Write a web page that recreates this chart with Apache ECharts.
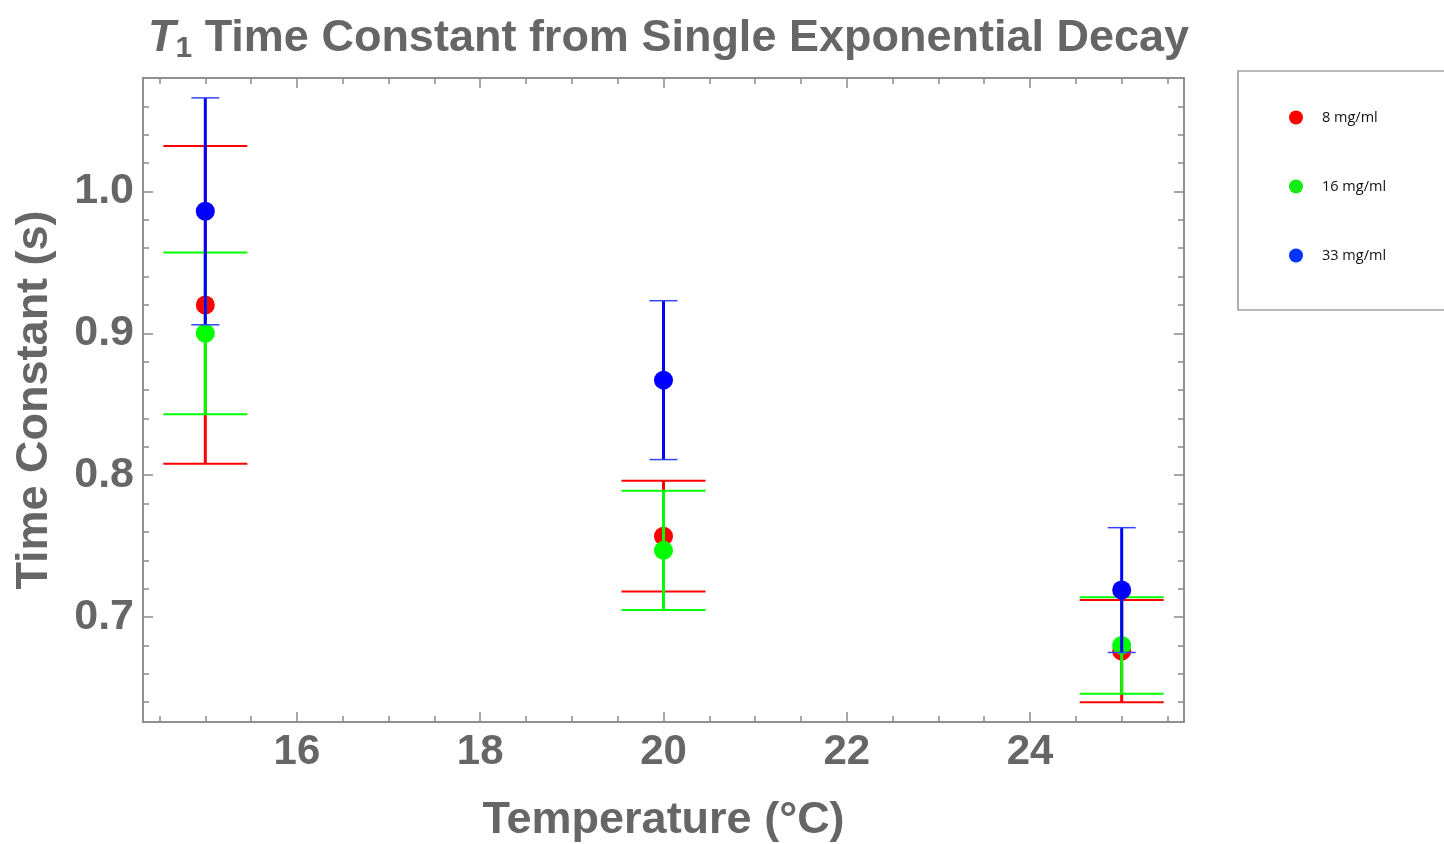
<!DOCTYPE html>
<html>
<head>
<meta charset="utf-8">
<script src="https://cdn.jsdelivr.net/npm/echarts@6/dist/echarts.min.js"></script>
<style>
html,body{margin:0;padding:0;background:#fff;}
#chart{width:1444px;height:844px;}
</style>
</head>
<body>
<div id="chart"></div>
<script>
// ---- data ----
const temperatures = [15, 20, 25];
const seriesNames = ['8 mg/ml', '16 mg/ml', '33 mg/ml'];
const values8 = [0.920, 0.757, 0.676];
const errors8 = [0.112, 0.039, 0.036];
const values16 = [0.900, 0.747, 0.680];
const errors16 = [0.057, 0.042, 0.034];
const values33 = [0.986, 0.867, 0.719];
const errors33 = [0.080, 0.056, 0.044];
const xMajorTicks = [16, 18, 20, 22, 24];
const xMinorTicks = [14.5, 15, 15.5, 16, 16.5, 17, 17.5, 18, 18.5, 19, 19.5, 20, 20.5, 21, 21.5, 22, 22.5, 23, 23.5, 24, 24.5, 25, 25.5];
const yMajorTicks = [0.7, 0.8, 0.9, 1.0];
const yMinorTicks = [0.64, 0.66, 0.68, 0.70, 0.72, 0.74, 0.76, 0.78, 0.80, 0.82, 0.84, 0.86, 0.88, 0.90, 0.92, 0.94, 0.96, 0.98, 1.00, 1.02, 1.04, 1.06];

const xMin = 14.32, xMax = 25.68, yMin = 0.626, yMax = 1.080;
const textGrey = '#666666';
const frameGrey = '#8a8a8a';

function rows(vals, errs) {
  return temperatures.map((t, i) => [t, vals[i], errs[i]]);
}

function makeRender(color, capHalf, capWidth, capColor) {
  return function (params, api) {
    const x = api.value(0), y = api.value(1), e = api.value(2);
    const c = api.coord([x, y]);
    const top = api.coord([x, y + e]);
    const bot = api.coord([x, y - e]);
    return {
      type: 'group',
      children: [
        { type: 'line', shape: { x1: top[0], y1: top[1], x2: bot[0], y2: bot[1] },
          style: { stroke: color, lineWidth: 3 } },
        { type: 'line', shape: { x1: top[0] - capHalf, y1: top[1], x2: top[0] + capHalf, y2: top[1] },
          style: { stroke: capColor, lineWidth: capWidth } },
        { type: 'line', shape: { x1: bot[0] - capHalf, y1: bot[1], x2: bot[0] + capHalf, y2: bot[1] },
          style: { stroke: capColor, lineWidth: capWidth } },
        { type: 'circle', shape: { cx: c[0], cy: c[1], r: 9.5 }, style: { fill: color } }
      ]
    };
  };
}

function xAxisDef(position, ticks, len, labels, extra) {
  return Object.assign({
    type: 'value', position: position, min: xMin, max: xMax, gridIndex: 0,
    axisLine: { show: true, onZero: false, lineStyle: { color: frameGrey, width: 1.5 } },
    axisTick: { show: true, inside: true, length: len, customValues: ticks, lineStyle: { color: frameGrey, width: 1.5 } },
    axisLabel: labels ? { show: true, customValues: ticks, margin: 9, fontSize: 42, fontWeight: 'bold',
      fontFamily: 'Liberation Sans', color: textGrey } : { show: false },
    splitLine: { show: false }
  }, extra || {});
}
function yAxisDef(position, ticks, len, labels, extra) {
  return Object.assign({
    type: 'value', position: position, min: yMin, max: yMax, gridIndex: 0,
    axisLine: { show: true, onZero: false, lineStyle: { color: frameGrey, width: 1.5 } },
    axisTick: { show: true, inside: true, length: len, customValues: ticks, lineStyle: { color: frameGrey, width: 1.5 } },
    axisLabel: labels ? { show: true, customValues: ticks, margin: 9, fontSize: 43, fontWeight: 'bold',
      fontFamily: 'Liberation Sans', color: textGrey, formatter: v => v.toFixed(1) } : { show: false },
    splitLine: { show: false }
  }, extra || {});
}

const chart = echarts.init(document.getElementById('chart'), null, { renderer: 'canvas' });
chart.setOption({
  animation: false,
  backgroundColor: '#ffffff',
  title: {
    text: '{t|T}{s|1}{r| Time Constant from Single Exponential Decay}',
    left: 143, top: 9,
    textStyle: {
      rich: {
        t: { fontFamily: 'Liberation Sans', fontSize: 45, fontStyle: 'italic', fontWeight: 'bold', color: textGrey, lineHeight: 50 },
        s: { fontFamily: 'Liberation Sans', fontSize: 30, fontWeight: 'bold', color: textGrey, lineHeight: 50, verticalAlign: 'bottom' },
        r: { fontFamily: 'Liberation Sans', fontSize: 45, fontWeight: 'bold', color: textGrey, lineHeight: 50 }
      }
    }
  },
  legend: {
    orient: 'vertical',
    left: 1238, top: 71,
    padding: [39, 90, 47, 51],
    itemGap: 54,
    itemWidth: 14, itemHeight: 14,
    icon: 'circle',
    borderColor: '#777777', borderWidth: 1.2,
    textStyle: { fontFamily: 'Open Sans', fontSize: 14.5, color: '#111111', padding: [0, 0, 0, 14] },
    data: [
      { name: seriesNames[0], itemStyle: { color: '#ff0000' } },
      { name: seriesNames[1], itemStyle: { color: '#11ee11' } },
      { name: seriesNames[2], itemStyle: { color: '#0033ff' } }
    ]
  },
  grid: { left: 143, top: 78, right: 260, bottom: 122, containLabel: false, outerBoundsMode: 'none' },
  xAxis: [
    xAxisDef('bottom', xMajorTicks, 10, true, {
      name: 'Temperature (°C)', nameLocation: 'middle', nameGap: 76,
      nameTextStyle: { fontFamily: 'Liberation Sans', fontSize: 45, fontWeight: 'bold', color: textGrey }
    }),
    xAxisDef('bottom', xMinorTicks, 6, false),
    xAxisDef('top', xMajorTicks, 10, false),
    xAxisDef('top', xMinorTicks, 6, false)
  ],
  yAxis: [
    yAxisDef('left', yMajorTicks, 10, true, {
      name: 'Time Constant (s)', nameLocation: 'middle', nameGap: 86,
      nameTextStyle: { fontFamily: 'Liberation Sans', fontSize: 45, fontWeight: 'bold', color: textGrey }
    }),
    yAxisDef('left', yMinorTicks, 6, false),
    yAxisDef('right', yMajorTicks, 10, false),
    yAxisDef('right', yMinorTicks, 6, false)
  ],
  series: [
    { name: seriesNames[0], type: 'custom', xAxisIndex: 0, yAxisIndex: 0, z: 2,
      itemStyle: { color: '#ff0000' },
      renderItem: makeRender('#ff0000', 42, 2, '#ff0000'), data: rows(values8, errors8) },
    { name: seriesNames[1], type: 'custom', xAxisIndex: 0, yAxisIndex: 0, z: 3,
      itemStyle: { color: '#00ff00' },
      renderItem: makeRender('#00ff00', 42, 2, '#00ff00'), data: rows(values16, errors16) },
    { name: seriesNames[2], type: 'custom', xAxisIndex: 0, yAxisIndex: 0, z: 4,
      itemStyle: { color: '#0000ff' },
      renderItem: makeRender('#0000ff', 14, 1.5, '#3344ff'), data: rows(values33, errors33) }
  ]
});
</script>
</body>
</html>
